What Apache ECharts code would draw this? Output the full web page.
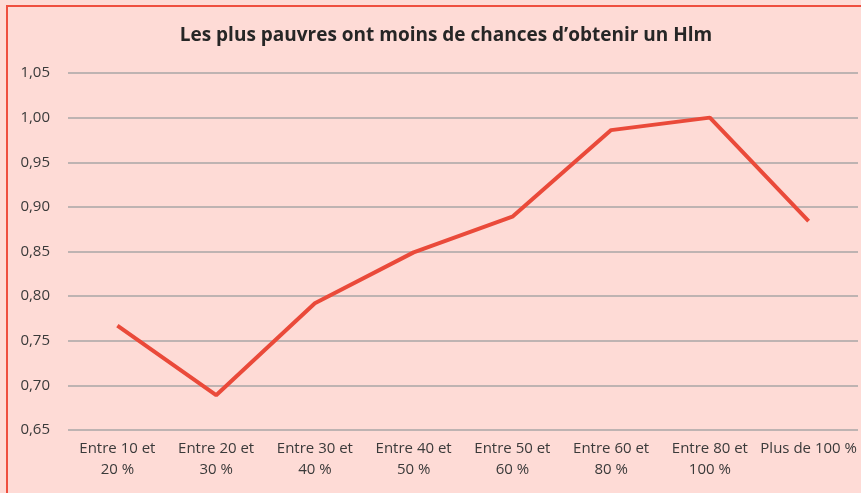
<!DOCTYPE html>
<html>
<head>
<meta charset="utf-8">
<script src="https://cdn.jsdelivr.net/npm/echarts@6/dist/echarts.min.js"></script>
<style>
body {
  margin: 0;
  background-color: #fedbd6;
}
#chart {
  width: 861px;
  height: 493px;
}
.frame {
  position: absolute;
  left: 6px;
  top: 5px;
  width: 900px;
  height: 600px;
  border-left: 2px solid #ef4f3f;
  border-top: 2px solid #ef4f3f;
  pointer-events: none;
}
</style>
</head>
<body>
<div id="chart"></div>
<div class="frame"></div>
<script>
// catégories de revenus
const categories = [
  "Entre 10 et\n20 %",
  "Entre 20 et\n30 %",
  "Entre 30 et\n40 %",
  "Entre 40 et\n50 %",
  "Entre 50 et\n60 %",
  "Entre 60 et\n80 %",
  "Entre 80 et\n100 %",
  "Plus de 100 %",
];
// chances relatives d'obtenir un Hlm
const values = [0.767, 0.689, 0.792, 0.849, 0.889, 0.986, 1.0, 0.884];

const myChart = echarts.init(document.getElementById("chart"));

const option = {
  backgroundColor: "#fedbd6",
  textStyle: {
    fontFamily: "Open Sans",
  },
  title: {
    text: "Les plus pauvres ont moins de chances d\u2019obtenir un Hlm",
    left: 441,
    top: 21,
    textAlign: "center",
    textStyle: {
      fontFamily: "Open Sans",
      fontSize: 19,
      fontWeight: "bold",
      color: "#262626",
    },
  },
  grid: {
    left: 68,
    right: 3,
    top: 73,
    bottom: 63,
  },
  xAxis: {
    type: "category",
    data: categories,
    axisLine: { show: false },
    axisTick: { show: false },
    axisLabel: {
      interval: 0,
      margin: 8,
      fontSize: 15,
      lineHeight: 21,
      color: "#3a3a3a",
    },
  },
  yAxis: {
    type: "value",
    min: 0.65,
    max: 1.05,
    interval: 0.05,
    axisLabel: {
      margin: 18,
      fontSize: 15,
      color: "#3a3a3a",
      formatter: (v) => v.toFixed(2).replace(".", ","),
    },
    splitLine: {
      lineStyle: { color: "#a9a6a6", width: 1.5 },
    },
  },
  series: [
    {
      type: "line",
      data: values,
      symbol: "none",
      lineStyle: { color: "#ea4a3a", width: 4 },
    },
  ],
};

myChart.setOption(option);
</script>
</body>
</html>
